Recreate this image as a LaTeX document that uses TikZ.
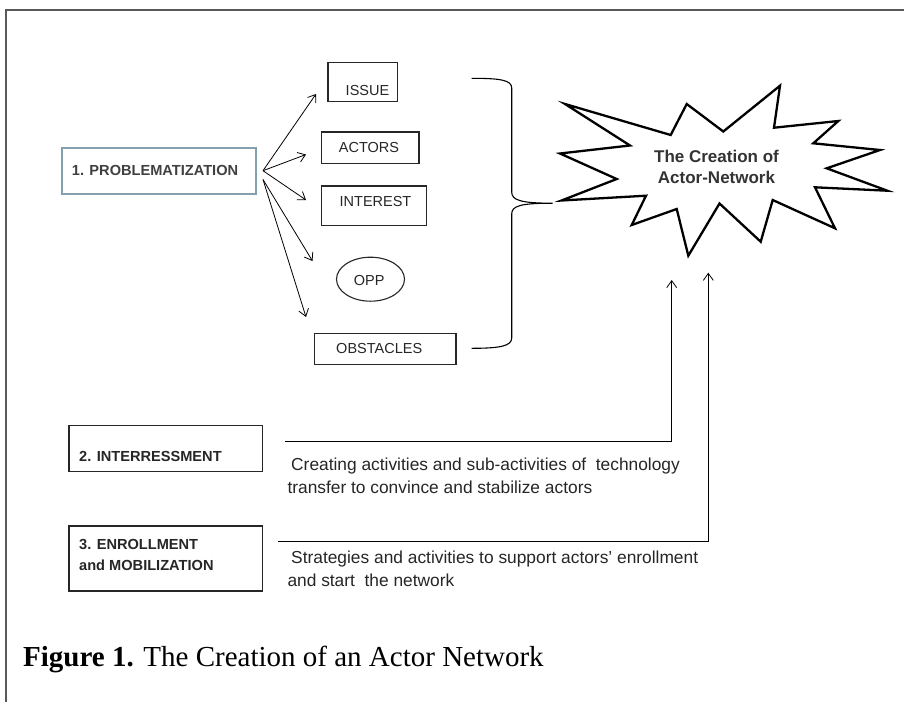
\documentclass[tikz,border=0pt]{standalone}
\usepackage{fontspec}
\setmainfont{Liberation Sans}
\newfontfamily\capfont{Liberation Serif}
\usetikzlibrary{arrows.meta,shapes.geometric}
\definecolor{probblue}{RGB}{132,160,172}
\definecolor{txtdark}{RGB}{38,38,38}
\begin{document}
\begin{tikzpicture}[x=1pt,y=-1pt,
  boxlbl/.style={font=\fontsize{14.5}{17}\selectfont, text=txtdark, inner sep=0pt, anchor=base},
  boldlbl/.style={font=\fontsize{14.6}{17}\selectfont\bfseries, text=txtdark, inner sep=0pt, anchor=base west},
  desc/.style={font=\fontsize{17.35}{21}\selectfont, text=txtdark, inner sep=0pt, anchor=base west},
  startxt/.style={font=\fontsize{17}{20}\selectfont\bfseries, text=black!80, inner sep=0pt, anchor=base},
  bx/.style={draw=black!85, line width=1.1pt, inner sep=0pt, rectangle},
  arr/.style={-{Straight Barb[length=7pt,width=10pt]}, line width=0.8pt, black},
  conn/.style={line width=1.1pt, black},
 ]
\useasboundingbox (0,0) rectangle (904,702);
\fill[white] (0,0) rectangle (904,702);
% frame
\draw[black!65, line width=1.5pt] (6,702) -- (6,10) -- (904,10);

% problematization
\node[draw=probblue, line width=2.2pt, minimum width=194.3, minimum height=46.3, inner sep=0pt] (prob) at (158.85,170.85) {};
\node[boldlbl, text=black!75] (probt) at (71.7,175.8) {1. PROBLEMATIZATION};

% right-hand items
\node[bx, minimum width=69.7, minimum height=39.2] (issue) at (362.85,82.1) {};
\node[boxlbl] (issuet) at (367.5,95) {ISSUE};
\node[bx, minimum width=97.3, minimum height=31.3] (actors) at (370.35,147.65) {};
\node[boxlbl] (actorst) at (369,152.9) {ACTORS};
\node[bx, minimum width=105, minimum height=39.3] (interest) at (374.2,205.65) {};
\node[boxlbl] (interestt) at (375.5,206.2) {INTEREST};
\node[draw=black!85, line width=1.1pt, ellipse, minimum width=68, minimum height=44, inner sep=0pt] (opp) at (370.5,279.2) {};
\node[boxlbl] (oppt) at (369.2,285.2) {OPP};
\node[bx, minimum width=141.7, minimum height=31] (obst) at (385.15,348.8) {};
\node[boxlbl] (obstt) at (379.2,353.2) {OBSTACLES};

% arrows from problematization
\coordinate (po1) at (263,170.7);
\coordinate (po2) at (263,179.5);
\coordinate (tissue) at (316,94);
\coordinate (tactors) at (306,154.5);
\coordinate (tinterest) at (306,200);
\coordinate (topp) at (312.5,261);
\coordinate (tobst) at (306,317);
\draw[arr] (po1) -- (tissue);
\draw[arr] (po1) -- (tactors);
\draw[arr] (po1) -- (tinterest);
\draw[arr] (po2) -- (topp);
\draw[arr] (po2) -- (tobst);

% brace
\coordinate (btop) at (471.7,78.3);
\coordinate (btip) at (552.7,203.2);
\coordinate (bbot) at (471.7,348.3);
\draw[conn] (btop) .. controls (500,78.3) and (511.7,80) .. (511.7,88)
  -- (511.7,192) .. controls (511.7,200) and (520,203.2) .. (btip)
  .. controls (520,203.2) and (511.7,206) .. (511.7,214)
  -- (511.7,338) .. controls (511.7,346) and (500,348.3) .. (bbot);

% star
\draw[black, line width=2.3pt, line join=miter, miter limit=20]
  (565,104) -- (670.7,135) -- (686.7,104) -- (723.3,131.5) -- (780,85.7)
  -- (774,127.7) -- (838.3,121) -- (813.3,143.3) -- (880,150)
  -- (826.7,168.3) -- (887.3,190.7) -- (815,187.3) -- (835,228.3)
  -- (772.7,200) -- (760.7,241.7) -- (719.5,203.5) -- (688.3,255.7)
  -- (676.7,209) -- (631.7,225) -- (646,195.7) -- (561.5,200.5)
  -- (616.7,179) -- (560,153.5) -- (630,145.5) -- cycle;
\node[startxt] (star1) at (716.5,162.1) {The Creation of};
\node[startxt] (star2) at (716.5,183.6) {Actor-Network};

% interressment
\node[bx, minimum width=193.7, minimum height=46] (inter) at (165.85,448.7) {};
\node[boldlbl] (intert) at (79,461.8) {2. INTERRESSMENT};
\coordinate (h2) at (285,441);
\coordinate (t2) at (671.7,280);
\draw[arr] (h2) -| (t2);
\node[desc] (d2a) at (287.3,470.5) {\hspace{3.7pt}Creating activities and sub-activities of\ \ technology};
\node[desc] (d2b) at (287.3,493.5) {transfer to convince and stabilize actors};

% enrollment
\node[bx, minimum width=193.7, minimum height=65] (enroll) at (165.85,558.5) {};
\node[boldlbl] (enrollt1) at (79,549) {3. ENROLLMENT};
\node[boldlbl] (enrollt2) at (79,570.7) {and MOBILIZATION};
\coordinate (h3) at (278,541.7);
\coordinate (t3) at (708.3,272.7);
\draw[arr] (h3) -| (t3);
\node[desc] (d3a) at (287.3,563.5) {\hspace{3.7pt}Strategies and activities to support actors’ enrollment};
\node[desc] (d3b) at (287.3,586.5) {and start\ \ the network};

% caption
\node[inner sep=0pt, anchor=base west, font=\capfont\fontsize{29}{33}\selectfont] (cap) at (23,666.8) {\textbf{Figure 1.} The Creation of an Actor Network};
\end{tikzpicture}
\end{document}
